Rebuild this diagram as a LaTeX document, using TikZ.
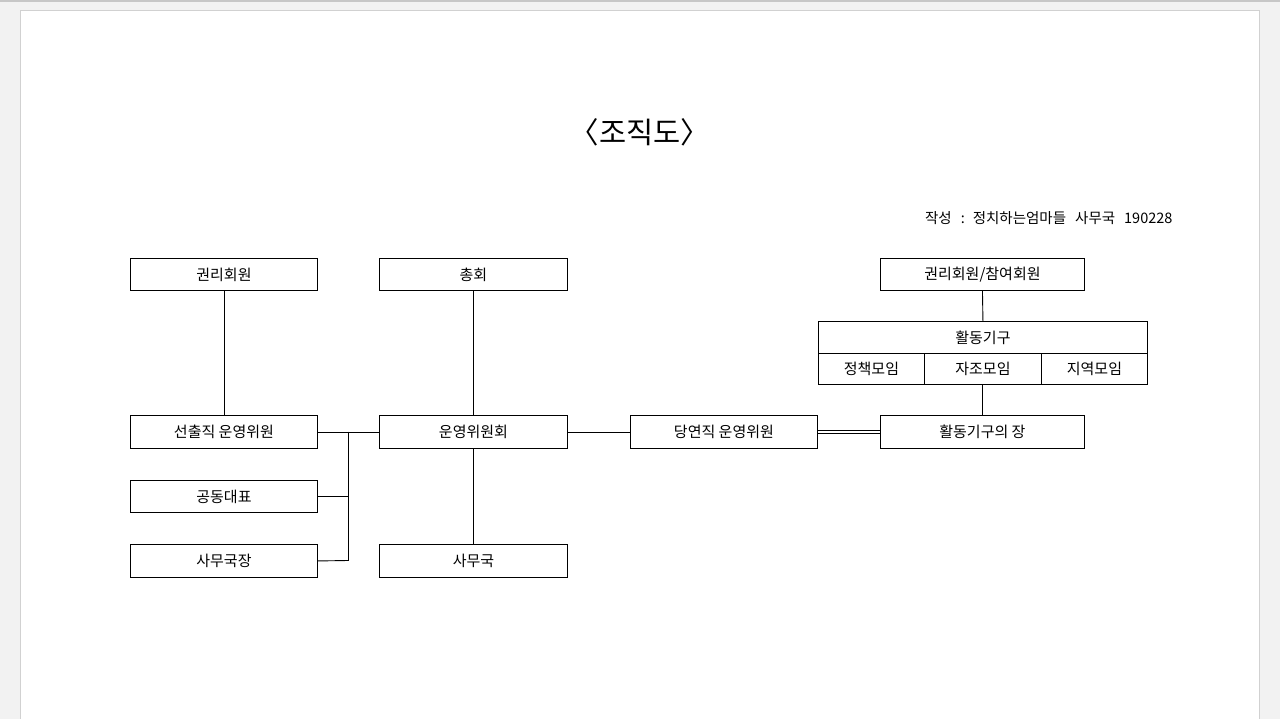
\documentclass[tikz,border=0pt]{standalone}
\usepackage{fontspec}
\setmainfont{Noto Sans CJK KR}
\begin{document}
\begin{tikzpicture}[x=1pt,y=-1pt,
  box/.style={draw=black,line width=0.9pt,minimum height=32pt,inner sep=0pt,font=\fontsize{15}{18}\selectfont,anchor=north west},
  conn/.style={draw=black,line width=0.9pt}]
\useasboundingbox (0,0) rectangle (1280,719);
\fill[black!5] (0,0) rectangle (1280,719);
\fill[black!22] (0,0) rectangle (1280,2);
\fill[white,draw=black!18,line width=1pt] (20,11) rectangle (1259,725);
% title
\node (title) at (640,132) {\fontsize{29.5}{34}\selectfont 〈조직도〉};
\node[anchor=east] (author) at (1176,218) {\fontsize{14.5}{17}\selectfont 작성\hspace{9pt}:\hspace{8pt}정치하는엄마들\hspace{9pt}사무국\hspace{9pt}190228};
% boxes
\node[box,minimum width=187pt] (gm) at (130,258) {권리회원};
\node[box,minimum width=188pt] (ch) at (379,258) {총회};
\node[box,minimum width=204pt] (gc) at (880,258) {권리회원/참여회원};
\node[box,minimum width=329pt,minimum height=32pt] (hd) at (818,321) {활동기구};
\node[box,minimum width=106pt,minimum height=31pt] (s1) at (818,353) {정책모임};
\node[box,minimum width=117pt,minimum height=31pt] (s2) at (924,353) {자조모임};
\node[box,minimum width=106pt,minimum height=31pt] (s3) at (1041,353) {지역모임};
\node[box,minimum width=187pt,minimum height=33pt] (sc) at (130,415) {선출직 운영위원};
\node[box,minimum width=188pt,minimum height=33pt] (uw) at (379,415) {운영위원회};
\node[box,minimum width=187pt,minimum height=33pt] (dy) at (630,415) {당연직 운영위원};
\node[box,minimum width=204pt,minimum height=33pt] (hj) at (880,415) {활동기구의 장};
\node[box,minimum width=187pt] (gd) at (130,480) {공동대표};
\node[box,minimum width=187pt,minimum height=33pt] (sj) at (130,544) {사무국장};
\node[box,minimum width=188pt,minimum height=33pt] (sm) at (379,544) {사무국};
\coordinate (bt) at (348,431.5);
\coordinate (bb) at (348,560.5);
% connectors
\draw[conn] (gm.south) -- (sc.north);
\draw[conn] (ch.south) -- (uw.north);
\draw[conn] (uw.south) -- (sm.north);
\draw[conn] (sc.east) -- (uw.west);
\draw[conn] (bt) -- (bb);
\draw[conn] (gd.east) -- (gd.east -| bt);
\draw[conn] (sj.east) -- (bb);
\draw[conn] (uw.east) -- (dy.west);
\draw[conn,double distance=2pt,line width=0.8pt] (dy.east) -- (hj.west);
\draw[conn] (gc.south) -- (hd.north);
\draw[conn] (s2.south -| hj.north) -- (hj.north);
\end{tikzpicture}
\end{document}
